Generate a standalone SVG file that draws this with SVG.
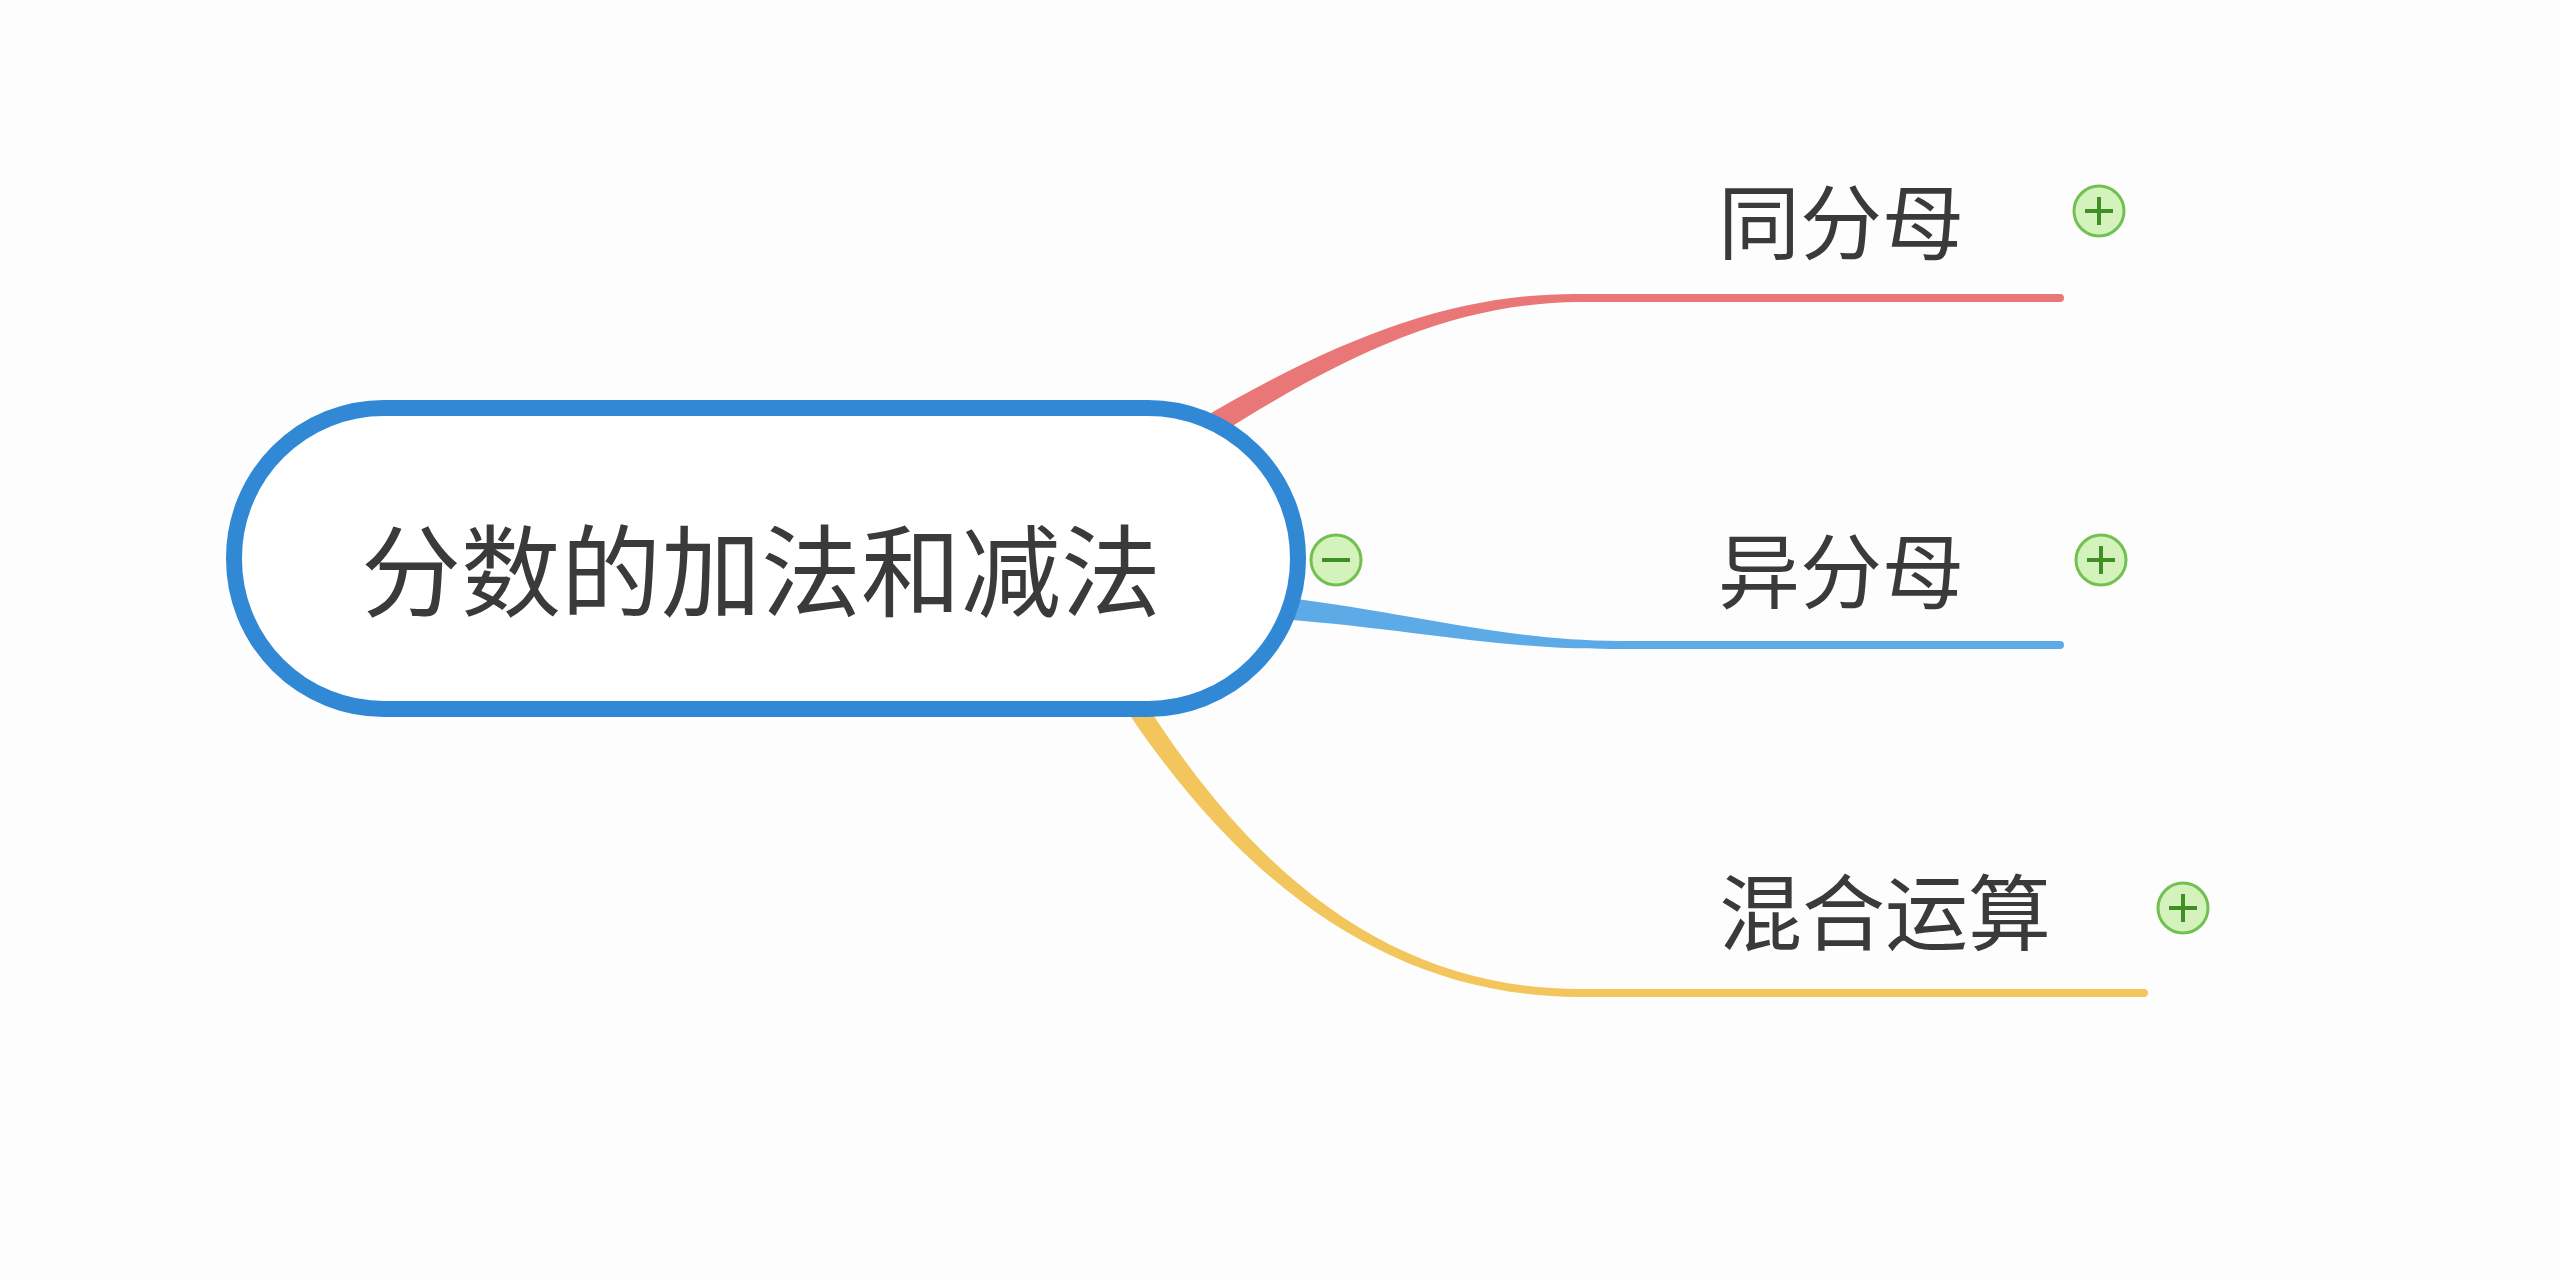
<svg xmlns="http://www.w3.org/2000/svg" width="2560" height="1280" viewBox="0 0 2560 1280">
<style>
.lbl{font-family:"Noto Sans CJK SC","Noto Sans",sans-serif;fill:#3a3a3a;dominant-baseline:central}
.btn circle{fill:#d4f2bc;stroke:#72c052;stroke-width:3}
.btn path{stroke:#3f8f26;stroke-width:4;fill:none}
</style>
<rect width="2560" height="1280" fill="#fdfdfd"/>
<g id="connectors">
<path d="M1194,423 C1346,333 1460,293 1580,294 L2060,294 A4,4 0 0 1 2060,302 L1580,302 C1460,303 1354,347 1206,443 Z" fill="#e97777"/>
<path d="M1280,597 C1420,614 1500,640 1620,641 L2060,641 A4,4 0 0 1 2060,649 L1620,649 C1500,650 1420,630 1280,619 Z" fill="#5cabe6"/>
<path d="M1143,699 C1260,885 1400,989 1580,989 L2144,989 A4,4 0 0 1 2144,997 L1580,997 C1400,997 1250,895 1127,711 Z" fill="#f2c65c"/>
</g>
<g id="root">
<rect x="234" y="408" width="1064" height="301" rx="150" ry="150" fill="#ffffff" stroke="#3189d6" stroke-width="16"/>
<text class="lbl" x="761" y="565" font-size="100" text-anchor="middle">分数的加法和减法</text>
<g class="btn"><circle cx="1336" cy="560" r="25"/><path d="M1322,560 H1350"/></g>
</g>
<g id="node1">
<text class="lbl" x="1718" y="217" font-size="82">同分母</text>
<g class="btn"><circle cx="2099" cy="211" r="25"/><path d="M2085,211 H2113 M2099,197 V225"/></g>
</g>
<g id="node2">
<text class="lbl" x="1718" y="566" font-size="82">异分母</text>
<g class="btn"><circle cx="2101" cy="560" r="25"/><path d="M2087,560 H2115 M2101,546 V574"/></g>
</g>
<g id="node3">
<text class="lbl" x="1719" y="908" font-size="83">混合运算</text>
<g class="btn"><circle cx="2183" cy="908" r="25"/><path d="M2169,908 H2197 M2183,894 V922"/></g>
</g>
</svg>
